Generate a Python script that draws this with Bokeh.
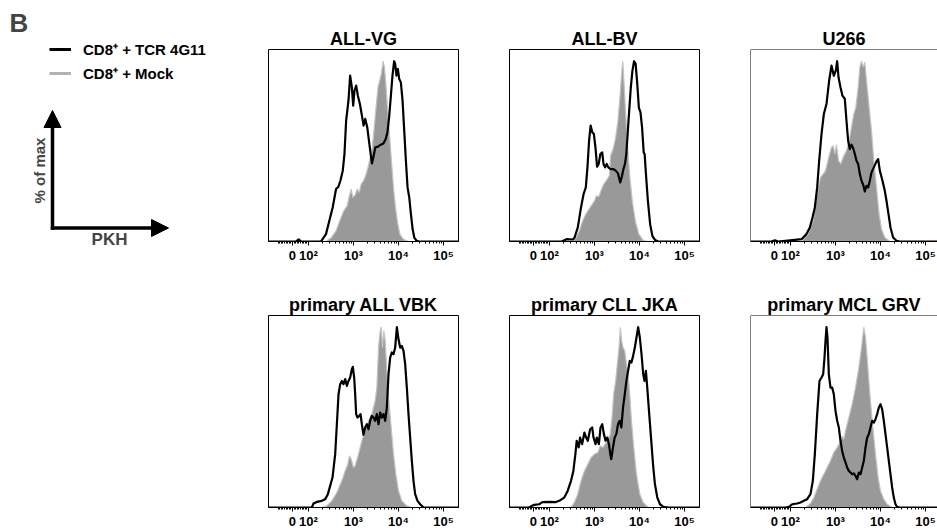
import math
from bokeh.plotting import figure
from bokeh.models import (Range1d, FixedTicker, Span, Label, Arrow, NormalHead,
                          Legend, LegendItem)
from bokeh.layouts import row, column
from bokeh.embed import file_html
from bokeh.resources import INLINE

FONT = "Liberation Sans"

# ---- axis: display position = log10(PKH), biexponential zero at 1.644 ----
TICK_POS = [1.644, 2.0, 3.0, 4.0, 5.0]
TICK_LABELS = ["0", "10²", "10³", "10⁴", "10⁵"]
X_START = 1.111
X_END = 5.333
X_END_CLIPPED = 5.267
Y_MAX = 106.5

TITLES = ["ALL-VG", "ALL-BV", "U266",
          "primary ALL VBK", "primary CLL JKA", "primary MCL GRV"]
SERIES_LABELS = ["CD8⁺ + TCR 4G11", "CD8⁺ + Mock"]

# ---- data: x = log10(PKH) display position, y = % of max ----
VG_TCR_X = [1.72, 1.78, 1.84, 2.276, 2.388, 2.463, 2.537, 2.612, 2.664, 2.709, 2.761, 2.799, 2.836,
            2.888, 2.925, 2.963, 2.993, 3.022, 3.060, 3.097, 3.142, 3.187, 3.224,
            3.261, 3.306, 3.343, 3.381, 3.410, 3.448, 3.485, 3.545, 3.604, 3.664,
            3.716, 3.754, 3.791, 3.828, 3.866, 3.903, 3.925, 3.955, 3.985, 4.015,
            4.052, 4.090, 4.127, 4.164, 4.201, 4.239, 4.276, 4.313, 4.351, 4.403, 4.455]
VG_TCR_Y = [0, 1.2, 0, 0, 4.1, 11.5, 18.9, 29.1, 30.4, 33.7, 39.3, 48.5, 67.0,
            78.1, 92.0, 85.6, 75.4, 83.7, 86.5, 80.9, 76.3, 69.8, 64.3,
            68.0, 63.3, 55.9, 48.5, 43.3, 47.6, 52.2, 52.6, 53.7, 54.4,
            56.9, 60.6, 68.9, 80.0, 92.0, 100, 98.5, 92.0, 95.7, 90.2,
            88.3, 78.1, 61.5, 44.8, 30.0, 24.4, 15.2, 6.9, 2.2, 0.4, 0]
VG_MOCK_X = [2.388, 2.500, 2.612, 2.709, 2.784, 2.858, 2.910, 2.948, 2.985, 3.037,
             3.082, 3.127, 3.172, 3.224, 3.276, 3.321, 3.373, 3.418, 3.455, 3.500,
             3.545, 3.582, 3.619, 3.657, 3.687, 3.716, 3.754, 3.799, 3.843, 3.888,
             3.933, 3.978, 4.030, 4.104, 4.216]
VG_MOCK_Y = [0, 1.9, 5.9, 12.4, 17.0, 19.8, 25.4, 29.1, 24.4, 25.9,
             29.1, 27.2, 31.9, 33.7, 37.0, 41.1, 46.7, 52.2, 61.5, 74.4,
             85.6, 89.3, 93.0, 100, 96.7, 88.3, 74.4, 59.6, 44.8, 30.0,
             18.9, 10.6, 4.1, 1.3, 0]

BV_TCR_X = [2.271, 2.379, 2.521, 2.557, 2.629, 2.700, 2.757, 2.807, 2.843, 2.879,
            2.914, 2.950, 2.986, 3.021, 3.057, 3.093, 3.129, 3.171, 3.200, 3.236,
            3.271, 3.307, 3.357, 3.414, 3.471, 3.521, 3.571, 3.607, 3.643, 3.679,
            3.707, 3.736, 3.771, 3.807, 3.843, 3.879, 3.914, 3.950, 3.986, 4.021,
            4.057, 4.093, 4.114, 4.143, 4.186, 4.236, 4.286, 4.343, 4.414]
BV_TCR_Y = [0, 1.3, 1.1, 2.2, 7.8, 18.9, 26.3, 30.0, 41.1, 55.9,
            64.3, 60.6, 59.6, 52.2, 41.5, 43.0, 48.5, 49.4, 43.0, 41.1,
            43.0, 41.1, 40.2, 40.2, 39.3, 37.8, 32.8, 35.9, 40.2, 43.3,
            48.5, 59.6, 72.6, 85.6, 94.8, 100, 98.5, 87.4, 74.1, 71.7,
            63.3, 49.4, 48.5, 37.4, 22.6, 9.6, 3.1, 0.9, 0]
BV_MOCK_X = [2.521, 2.593, 2.664, 2.736, 2.807, 2.879, 2.950, 3.000, 3.043, 3.093,
             3.143, 3.200, 3.271, 3.329, 3.357, 3.414, 3.471, 3.521, 3.571, 3.607,
             3.629, 3.657, 3.693, 3.736, 3.786, 3.843, 3.914, 3.986, 4.071, 4.164]
BV_MOCK_Y = [0, 2.2, 5.9, 11.5, 15.2, 18.0, 20.7, 22.6, 25.4, 24.8,
             28.1, 31.5, 34.1, 36.5, 47.6, 51.3, 57.8, 67.0, 81.9, 94.8,
             100, 87.4, 70.7, 52.2, 35.6, 21.7, 10.6, 4.1, 0.9, 0]

U266_TCR_X = [1.578, 1.652, 1.726, 2.096, 2.244, 2.355, 2.430, 2.489, 2.541, 2.593,
              2.637, 2.689, 2.741, 2.800, 2.859, 2.911, 2.963, 3.007, 3.037, 3.067,
              3.111, 3.155, 3.207, 3.244, 3.281, 3.318, 3.355, 3.392, 3.430, 3.467,
              3.504, 3.541, 3.578, 3.615, 3.652, 3.689, 3.726, 3.763, 3.800, 3.852,
              3.911, 3.948, 3.985, 4.044, 4.096, 4.133, 4.178, 4.222, 4.281, 4.355,
              4.430]
U266_TCR_Y = [0, 0.6, 0, 0.9, 1.3, 4.1, 7.8, 13.3, 18.9, 30.0,
              44.8, 59.6, 70.7, 76.3, 89.3, 97.6, 92.0, 94.8, 100, 91.1,
              85.6, 80.9, 79.1, 67.0, 55.9, 51.3, 53.7, 51.9, 48.5, 44.8,
              43.0, 37.4, 33.7, 31.5, 27.8, 30.9, 30.0, 33.7, 38.3, 41.1,
              44.4, 45.7, 39.3, 33.7, 28.1, 22.6, 15.2, 7.8, 2.2, 0.4,
              0]
U266_MOCK_X = [2.244, 2.392, 2.504, 2.593, 2.667, 2.726, 2.778, 2.815, 2.859, 2.911,
               2.948, 2.985, 3.022, 3.067, 3.118, 3.170, 3.244, 3.304, 3.355, 3.407,
               3.452, 3.504, 3.541, 3.578, 3.615, 3.652, 3.689, 3.748, 3.800, 3.852,
               3.911, 3.970, 4.022, 4.096, 4.207]
U266_MOCK_Y = [0, 4.1, 11.5, 26.3, 35.6, 37.4, 39.3, 43.0, 47.6, 52.2,
               53.1, 48.5, 53.7, 44.8, 43.0, 46.7, 50.4, 55.9, 63.3, 70.7,
               74.4, 85.6, 96.7, 100, 96.7, 99.4, 89.3, 74.4, 61.5, 44.8,
               30.0, 15.2, 6.9, 2.2, 0]

VBK_TCR_X = [2.074, 2.111, 2.185, 2.296, 2.370, 2.430, 2.481, 2.533, 2.593, 2.630,
             2.667, 2.704, 2.741, 2.778, 2.815, 2.852, 2.889, 2.926, 2.963, 2.985,
             3.015, 3.037, 3.059, 3.089, 3.126, 3.156, 3.185, 3.222, 3.259, 3.296,
             3.333, 3.370, 3.407, 3.444, 3.481, 3.519, 3.556, 3.593, 3.630, 3.667,
             3.704, 3.741, 3.778, 3.815, 3.852, 3.889, 3.926, 3.963, 4.000, 4.037,
             4.074, 4.111, 4.148, 4.185, 4.222, 4.259, 4.296, 4.333, 4.370, 4.422,
             4.481, 4.556]
VBK_TCR_Y = [0, 2.2, 3.1, 3.7, 4.6, 7.4, 12.0, 16.6, 29.6, 46.2,
             62.8, 68.4, 70.2, 68.4, 71.2, 67.5, 70.2, 72.1, 76.7, 78.0,
             72.1, 62.8, 51.8, 49.9, 50.8, 51.8, 46.2, 40.3, 44.4, 46.2,
             43.4, 48.1, 50.8, 49.9, 48.1, 51.8, 46.2, 52.7, 49.9, 51.8,
             48.1, 55.5, 73.9, 83.2, 86.0, 85.0, 88.7, 100, 93.3, 88.7,
             89.6, 86.9, 79.5, 66.5, 51.8, 38.8, 25.9, 14.8, 7.4, 3.7,
             1.8, 0]
VBK_MOCK_X = [2.296, 2.407, 2.519, 2.630, 2.741, 2.815, 2.874, 2.911, 2.948, 3.000,
              3.037, 3.111, 3.185, 3.259, 3.333, 3.407, 3.481, 3.519, 3.556, 3.593,
              3.615, 3.644, 3.674, 3.704, 3.741, 3.778, 3.837, 3.889, 3.941, 4.000,
              4.074, 4.185, 4.296]
VBK_MOCK_Y = [0, 0.9, 3.7, 8.3, 14.8, 20.3, 24.0, 28.7, 26.8, 22.2,
              23.1, 29.6, 37.0, 42.5, 48.1, 51.8, 59.1, 66.5, 88.7, 98.0,
              100, 88.7, 98.0, 92.4, 75.8, 61.0, 44.4, 29.6, 18.5, 9.2,
              3.7, 0.9, 0]

JKA_TCR_X = [1.545, 1.657, 1.769, 1.843, 1.993, 2.142, 2.216, 2.328, 2.403, 2.478,
             2.530, 2.575, 2.604, 2.649, 2.679, 2.724, 2.776, 2.813, 2.851, 2.903,
             2.948, 2.978, 3.022, 3.052, 3.097, 3.134, 3.172, 3.209, 3.246, 3.284,
             3.321, 3.351, 3.373, 3.410, 3.448, 3.485, 3.522, 3.560, 3.597, 3.634,
             3.672, 3.709, 3.746, 3.784, 3.821, 3.858, 3.896, 3.933, 3.970, 4.007,
             4.045, 4.082, 4.112, 4.142, 4.172, 4.216, 4.261, 4.306, 4.343, 4.396,
             4.455, 4.530, 4.642]
JKA_TCR_Y = [0, 1.5, 1.8, 3.0, 3.1, 3.0, 3.7, 5.5, 9.2, 14.8,
             20.3, 29.6, 37.0, 33.3, 38.8, 35.1, 41.6, 38.8, 37.0, 43.4,
             44.4, 38.8, 35.1, 38.8, 35.1, 44.4, 46.2, 40.7, 37.0, 38.8,
             35.1, 29.6, 26.8, 33.3, 38.8, 40.7, 46.2, 48.1, 44.4, 55.5,
             62.8, 70.2, 75.8, 81.3, 80.4, 84.1, 88.7, 94.3, 100, 94.3,
             85.0, 73.9, 70.2, 75.8, 66.5, 51.8, 37.0, 22.2, 12.9, 5.5,
             1.8, 0.4, 0]
JKA_MOCK_X = [2.478, 2.552, 2.627, 2.701, 2.776, 2.851, 2.925, 3.000, 3.075, 3.127,
              3.187, 3.246, 3.299, 3.351, 3.396, 3.425, 3.470, 3.507, 3.545, 3.575,
              3.604, 3.634, 3.672, 3.709, 3.746, 3.784, 3.821, 3.873, 3.933, 4.007,
              4.082, 4.194]
JKA_MOCK_Y = [0, 2.8, 7.4, 14.8, 20.3, 24.0, 27.7, 29.6, 30.5, 34.2,
              33.3, 35.5, 37.3, 40.7, 51.8, 62.8, 70.2, 79.5, 88.7, 100,
              92.4, 88.7, 86.9, 79.5, 73.9, 62.8, 48.1, 33.3, 18.5, 7.4,
              2.8, 0]

GRV_TCR_X = [1.889, 1.963, 2.037, 2.148, 2.222, 2.296, 2.370, 2.444, 2.496, 2.541,
             2.593, 2.644, 2.689, 2.726, 2.756, 2.778, 2.800, 2.822, 2.852, 2.889,
             2.926, 2.963, 3.000, 3.037, 3.074, 3.111, 3.148, 3.185, 3.222, 3.259,
             3.296, 3.333, 3.370, 3.407, 3.444, 3.481, 3.519, 3.556, 3.593, 3.630,
             3.667, 3.704, 3.741, 3.778, 3.815, 3.852, 3.889, 3.926, 3.963, 4.000,
             4.037, 4.074, 4.111, 4.148, 4.185, 4.222, 4.259, 4.296, 4.333, 4.370,
             4.422]
GRV_TCR_Y = [0, 0.4, 1.8, 2.2, 2.8, 3.7, 4.6, 7.4, 14.8, 29.6,
             51.8, 70.2, 72.1, 73.9, 83.2, 92.4, 100, 94.3, 73.9, 66.5,
             66.5, 62.8, 53.6, 48.1, 44.4, 37.0, 31.4, 27.7, 25.0, 22.2,
             20.3, 19.4, 18.5, 18.9, 17.6, 15.7, 19.4, 18.5, 22.2, 25.9,
             33.3, 38.8, 40.7, 44.4, 48.1, 47.1, 49.0, 51.8, 55.5, 57.3,
             54.5, 48.1, 40.7, 33.3, 25.9, 18.5, 11.1, 5.5, 1.8, 0.4,
             0]
GRV_MOCK_X = [2.333, 2.444, 2.519, 2.593, 2.667, 2.741, 2.815, 2.889, 2.963, 3.037,
              3.111, 3.148, 3.185, 3.222, 3.296, 3.370, 3.444, 3.519, 3.578, 3.630,
              3.667, 3.704, 3.741, 3.778, 3.830, 3.889, 3.948, 4.000, 4.074, 4.148,
              4.259]
GRV_MOCK_Y = [0, 2.2, 5.5, 10.2, 14.8, 18.5, 22.2, 25.9, 30.5, 33.3,
              37.0, 39.7, 37.9, 42.5, 49.9, 57.3, 66.5, 77.6, 88.7, 100,
              94.3, 83.2, 70.2, 59.1, 44.4, 29.6, 16.6, 9.2, 4.6, 1.8,
              0]

# ---- style ----
BLACK = "#000000"
GREY_FILL = "#999999"
GREY_EDGE = "#c4c4c4"
GREY_LEGEND = "#b3b3b3"

# minor ticks: log decades plus the linear region around zero
MINOR_TICKS = [k + math.log10(m) for k in (2, 3, 4) for m in range(2, 10)]
MINOR_TICKS += [TICK_POS[0] + v * (TICK_POS[1] - TICK_POS[0]) / 100.0
                for v in range(-90, 100, 10) if v != 0]


def make_panel(title, tcr_x, tcr_y, mock_x, mock_y, last_col, fig_h, bottom_border):
    x_end = X_END_CLIPPED if last_col else X_END
    p = figure(width=197 if last_col else 241, height=fig_h,
               x_range=Range1d(X_START, x_end), y_range=Range1d(0, Y_MAX),
               output_backend="svg", toolbar_location=None, y_axis_location=None,
               title=title,
               min_border_left=10, min_border_right=0 if last_col else 41,
               min_border_top=49, min_border_bottom=bottom_border)
    p.grid.visible = False
    p.background_fill_color = "white"
    p.border_fill_color = "white"
    p.title.align = "center"
    p.title.text_font = FONT
    p.title.text_font_style = "bold"
    p.title.text_font_size = "18px"
    p.title.text_color = BLACK
    p.title.standoff = 2

    p.patch(mock_x, mock_y, fill_color=GREY_FILL, line_color=GREY_EDGE, line_width=1.2)
    p.line([X_START] + list(tcr_x) + [x_end], [0] + list(tcr_y) + [0],
           line_color=BLACK, line_width=2.2, line_join="round")

    ax = p.xaxis[0]
    ax.ticker = FixedTicker(ticks=TICK_POS, minor_ticks=MINOR_TICKS)
    ax.major_label_overrides = dict(zip(TICK_POS, TICK_LABELS))
    ax.major_label_text_font = FONT
    ax.major_label_text_font_style = "bold"
    ax.major_label_text_font_size = "13px"
    ax.major_label_text_color = BLACK
    ax.major_label_standoff = 2
    ax.major_tick_out = 4
    ax.major_tick_in = 0
    ax.minor_tick_out = 2
    ax.minor_tick_in = 0
    ax.axis_line_color = BLACK
    ax.major_tick_line_color = BLACK
    ax.minor_tick_line_color = BLACK

    if last_col:
        p.outline_line_color = None
        p.add_layout(Span(location=Y_MAX, dimension="width", line_color=BLACK, line_width=1))
        p.add_layout(Span(location=X_START, dimension="height", line_color=BLACK, line_width=1))
    else:
        p.outline_line_color = BLACK
        p.outline_line_width = 1
    return p


PANELS = [
    (TITLES[0], VG_TCR_X, VG_TCR_Y, VG_MOCK_X, VG_MOCK_Y),
    (TITLES[1], BV_TCR_X, BV_TCR_Y, BV_MOCK_X, BV_MOCK_Y),
    (TITLES[2], U266_TCR_X, U266_TCR_Y, U266_MOCK_X, U266_MOCK_Y),
    (TITLES[3], VBK_TCR_X, VBK_TCR_Y, VBK_MOCK_X, VBK_MOCK_Y),
    (TITLES[4], JKA_TCR_X, JKA_TCR_Y, JKA_MOCK_X, JKA_MOCK_Y),
    (TITLES[5], GRV_TCR_X, GRV_TCR_Y, GRV_MOCK_X, GRV_MOCK_Y),
]

figs = []
for i, (t, tx, ty, mx, my) in enumerate(PANELS):
    top_row = i < 3
    figs.append(make_panel(t, tx, ty, mx, my, last_col=(i % 3 == 2),
                           fig_h=266 if top_row else 265,
                           bottom_border=25 if top_row else 24))

# ---- key / axis schematic (left column) ----
LW, LH = 258, 531
leg = figure(width=LW, height=LH, x_range=Range1d(0, LW), y_range=Range1d(0, LH),
             output_backend="svg", toolbar_location=None,
             x_axis_location=None, y_axis_location=None, min_border=0)
leg.grid.visible = False
leg.outline_line_color = None
NO_DATA = [float("nan")]
r_tcr = leg.line(x=NO_DATA, y=NO_DATA, line_color=BLACK, line_width=3)
r_mock = leg.line(x=NO_DATA, y=NO_DATA, line_color=GREY_LEGEND, line_width=3)
legend = Legend(items=[LegendItem(label=SERIES_LABELS[0], renderers=[r_tcr]),
                       LegendItem(label=SERIES_LABELS[1], renderers=[r_mock])],
                location=(49, 448), padding=0, margin=0, spacing=4,
                glyph_width=22, glyph_height=20, label_height=20, label_standoff=12,
                border_line_color=None, background_fill_alpha=0,
                label_text_font=FONT, label_text_font_style="bold",
                label_text_font_size="15px", label_text_color=BLACK)
leg.add_layout(legend)

leg.add_layout(Label(x=18.5, y=508.5, text="B", text_font=FONT, text_font_style="bold",
                     text_font_size="26px", text_align="center", text_baseline="middle"))
head_v = NormalHead(size=17, fill_color=BLACK, line_color=BLACK)
head_h = NormalHead(size=17, fill_color=BLACK, line_color=BLACK)
leg.add_layout(Arrow(end=head_v, x_start=52, y_start=301.75, x_end=52, y_end=421,
                     line_width=3.5, line_color=BLACK))
leg.add_layout(Arrow(end=head_h, x_start=50.25, y_start=303.5, x_end=168, y_end=303.5,
                     line_width=3.5, line_color=BLACK))
leg.add_layout(Label(x=39, y=361, text="% of max", angle=math.pi / 2, text_font=FONT,
                     text_font_style="bold", text_font_size="15px",
                     text_align="center", text_baseline="middle"))
leg.add_layout(Label(x=109, y=292.5, text="PKH", text_font=FONT, text_font_style="bold",
                     text_font_size="17px", text_align="center", text_baseline="middle"))

layout = row(leg, column(row(figs[0], figs[1], figs[2]),
                         row(figs[3], figs[4], figs[5])))

open("out.html", "w").write(file_html(layout, INLINE, title="PKH histograms"))
